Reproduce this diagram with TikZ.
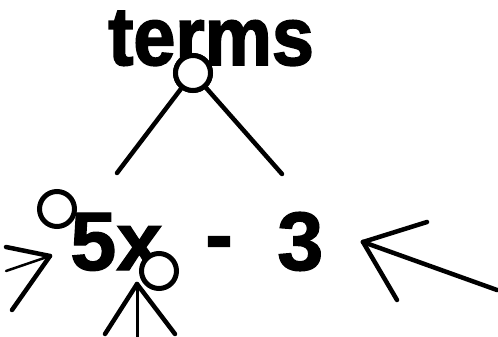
\documentclass[tikz,border=0pt]{standalone}
\usepackage{fontspec}
\setmainfont{Liberation Sans}
\newfontfamily\heavysans{Liberation Sans Bold}[FakeBold=2, FakeStretch=0.91]
\newfontfamily\boldsans{Liberation Sans Bold}[FakeBold=1.5]
\begin{document}
\begin{tikzpicture}[x=1pt,y=-1pt,
  word/.style={font=\fontsize{83}{90}\selectfont\boldsans, inner sep=0pt, anchor=base west},
  title/.style={font=\fontsize{83}{90}\selectfont\heavysans, inner sep=0pt, anchor=base west},
  ring/.style={circle, draw, line width=5pt, fill=white, minimum size=35pt, inner sep=0pt},
  stroke/.style={line width=4.5pt, line cap=round},
  ]
\useasboundingbox (0,0) rectangle (498,337);

% words
\node[title] (terms) at (108,65) {terms};
\node[word] (fivex) at (70,270) {5x};
\node[word] (minus) at (205,263) {-};
\node[word] (three) at (277,270) {3};

% branches under "terms"
\coordinate (bl) at (117,173);
\coordinate (br) at (282,174);
\node[ring] (top) at (193,73) {};
\draw[stroke] (top) -- (bl);
\draw[stroke] (top) -- (br);
\node[ring] at (top) {};

% arrow pointing at "5x" from the left
\coordinate (tipL) at (50,256);
\coordinate (l1) at (6,247);
\coordinate (l2) at (6,271);
\coordinate (l3) at (12,310);
\draw[stroke] (tipL) -- (l1);
\draw[stroke, line width=2.5pt] (tipL) -- (l2);
\draw[stroke] (tipL) -- (l3);

% arrow pointing up from below
\coordinate (tipB) at (137,284);
\coordinate (b1) at (105,334);
\coordinate (b2) at (137,337);
\coordinate (b3) at (175,334);
\draw[stroke] (tipB) -- (b1);
\draw[stroke, line width=3pt] (tipB) -- (b2);
\draw[stroke] (tipB) -- (b3);

% arrow pointing at "3" from the right
\coordinate (tipR) at (363,242);
\coordinate (r1) at (427,222);
\coordinate (r2) at (497,290);
\coordinate (r3) at (397,300);
\draw[stroke] (tipR) -- (r1);
\draw[stroke] (tipR) -- (r2);
\draw[stroke] (tipR) -- (r3);

% small rings
\node[ring] (ringA) at (57,209) {};
\node[ring] (ringB) at (159,271) {};
\end{tikzpicture}
\end{document}
